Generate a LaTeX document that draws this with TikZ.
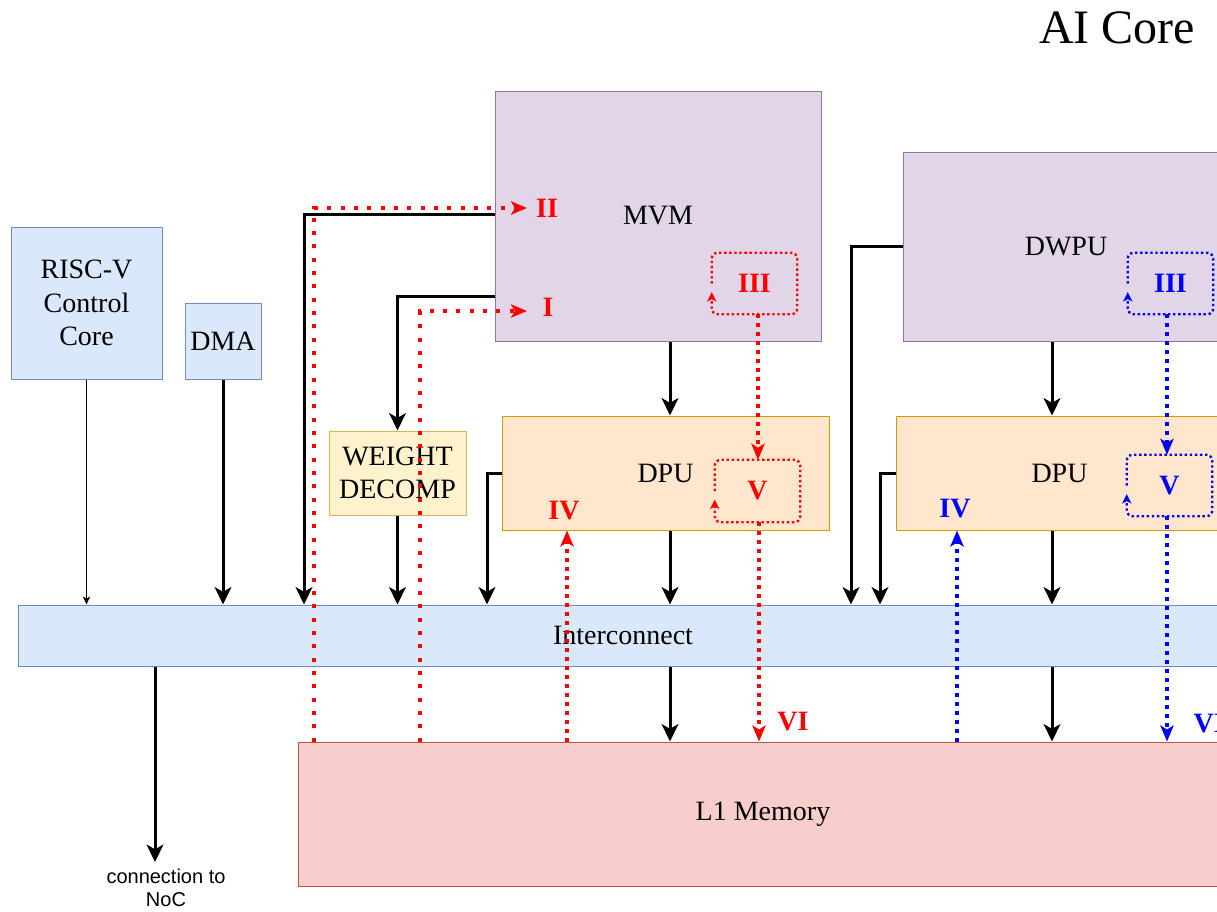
\documentclass[tikz,border=0pt]{standalone}
\usepackage{fontspec}
\setmainfont{Liberation Serif}
\newfontfamily\sansf{Liberation Sans}
\usetikzlibrary{arrows.meta}
\newlength{\px}\setlength{\px}{0.75pt}
\definecolor{bluef}{HTML}{DAE8FC}\definecolor{blued}{HTML}{6C8EBF}
\definecolor{purf}{HTML}{E1D5E7}\definecolor{purd}{HTML}{9673A6}
\definecolor{orf}{HTML}{FFE6CC}\definecolor{ord}{HTML}{D79B00}
\definecolor{yelf}{HTML}{FFF2CC}\definecolor{yeld}{HTML}{D6B656}
\definecolor{redf}{HTML}{F8CECC}\definecolor{redd}{HTML}{B85450}
\begin{document}
\begin{tikzpicture}[x=0.75pt,y=-0.75pt,
  box/.style={draw, line width=0.75pt, inner sep=0pt, align=center, font=\fontsize{21}{25}\selectfont},
  sz/.style 2 args={minimum width=#1\px, minimum height=#2\px},
  conn/.style={line width=2.25pt, -{Stealth[length=13pt,width=12.5pt,inset=3.5pt]}},
  thinconn/.style={line width=0.75pt, -{Stealth[length=6pt,width=5.5pt,inset=1.5pt]}},
  sparse/.style={line width=3pt, dash pattern=on 3pt off 7pt, -{Stealth[length=12pt,width=10pt,inset=3pt]}},
  dense/.style={line width=3pt, dash pattern=on 3pt off 3.75pt, -{Stealth[length=12pt,width=10pt,inset=3pt]}},
  loopline/.style={line width=1.8pt, dash pattern=on 1.8pt off 2pt, rounded corners=4.5pt, -{Stealth[length=7pt,width=7pt,inset=1.8pt]}},
  loopbox/.style={inner sep=0pt, minimum width=85\px, minimum height=61\px, font=\bfseries\fontsize{21}{25}\selectfont},
  lab/.style={font=\bfseries\fontsize{21}{25}\selectfont},
]
\useasboundingbox (0,0) rectangle (1217,911);
\clip (0,0) rectangle (1217,911);

% title
\node[font=\fontsize{36}{40}\selectfont] (title) at (1117,28) {AI Core};

% boxes
\node[box,fill=bluef,draw=blued,sz={151}{152}] (risc) at (86.5,303) {RISC-V\\Control\\Core};
\node[box,fill=bluef,draw=blued,sz={76}{76}] (dma) at (223,341) {DMA};
\node[box,fill=yelf,draw=yeld,sz={137}{84}] (wd) at (397.5,473) {WEIGHT\\DECOMP};
\node[box,fill=purf,draw=purd,sz={326}{250}] (mvm) at (658,216) {MVM};
\node[box,fill=purf,draw=purd,sz={326}{189}] (dwpu) at (1066,246.5) {DWPU};
\node[box,fill=orf,draw=ord,sz={327}{114}] (dpu1) at (665.5,473) {DPU};
\node[box,fill=orf,draw=ord,sz={327}{114}] (dpu2) at (1059.5,473) {DPU};
\node[box,fill=bluef,draw=blued,sz={1210}{61}] (ic) at (623,635.5) {Interconnect};
\node[box,fill=redf,draw=redd,sz={930}{144}] (l1) at (763,814) {L1 Memory};
\node[font=\sansf\fontsize{15}{17.25}\selectfont, align=center] (noc) at (166,888) {connection to\\NoC};
\coordinate (nocin) at (155,862);

% black connectors
\draw[thinconn] (risc.south) -- (risc.south |- ic.north);
\draw[conn] (dma.south) -- (dma.south |- ic.north);
\draw[conn] (mvm.west |- 0,214) -| (304,0 |- ic.north);
\draw[conn] (mvm.west |- 0,296) -| (wd.north);
\draw[conn] (wd.south) -- (wd.south |- ic.north);
\draw[conn] (dpu1.west) -| (487,0 |- ic.north);
\draw[conn] (670,0 |- mvm.south) -- (670,0 |- dpu1.north);
\draw[conn] (670,0 |- dpu1.south) -- (670,0 |- ic.north);
\draw[conn] (670,0 |- ic.south) -- (670,0 |- l1.north);
\draw[conn] (dwpu.west |- 0,246) -| (851,0 |- ic.north);
\draw[conn] (dpu2.west) -| (880,0 |- ic.north);
\draw[conn] (1052,0 |- dwpu.south) -- (1052,0 |- dpu2.north);
\draw[conn] (1052,0 |- dpu2.south) -- (1052,0 |- ic.north);
\draw[conn] (1052,0 |- ic.south) -- (1052,0 |- l1.north);
\draw[conn] (nocin |- ic.south) -- (nocin);

% red flow
\coordinate (ii) at (527,208);
\coordinate (i) at (527,311);
\draw[sparse,red] (314,0 |- l1.north) |- (ii);
\draw[sparse,red] (420,0 |- l1.north) |- (i);
\node[lab,text=red] (lii) at (547,208) {II};
\node[lab,text=red] (li) at (548,307) {I};

\node[loopbox,text=red] (r3) at (754.5,283.5) {III};
\draw[loopline,red] (r3.west) -- (r3.north west) -- (r3.north east) -- (r3.south east) -- (r3.south west) -- ([yshift=-6.5pt]r3.west);
\node[loopbox,text=red,minimum height=62\px] (r5) at (757.5,491) {V};
\draw[loopline,red] (r5.west) -- (r5.north west) -- (r5.north east) -- (r5.south east) -- (r5.south west) -- ([yshift=-6.5pt]r5.west);
\draw[dense,red] (758,0 |- r3.south) -- (758,0 |- r5.north);
\draw[dense,red] (759,0 |- r5.south) -- (759,0 |- l1.north);
\draw[dense,red] (567,0 |- l1.north) -- (567,0 |- dpu1.south);
\node[lab,text=red] (liv) at (564,511) {IV};
\node[lab,text=red] (lvi) at (793,722) {VI};

% blue flow
\node[loopbox,text=blue] (b3) at (1170.5,283.5) {III};
\draw[loopline,blue] (b3.west) -- (b3.north west) -- (b3.north east) -- (b3.south east) -- (b3.south west) -- ([yshift=-6.5pt]b3.west);
\node[loopbox,text=blue] (b5) at (1169.5,485.5) {V};
\draw[loopline,blue] (b5.west) -- (b5.north west) -- (b5.north east) -- (b5.south east) -- (b5.south west) -- ([yshift=-6.5pt]b5.west);
\draw[dense,blue] (1167,0 |- b3.south) -- (1167,0 |- b5.north);
\draw[dense,blue] (1167,0 |- b5.south) -- (1167,0 |- l1.north);
\draw[dense,blue] (957,0 |- l1.north) -- (957,0 |- dpu2.south);
\node[lab,text=blue] (biv) at (955,509) {IV};
\node[lab,text=blue,anchor=west] (bvi) at (1189,724) {VI};
\end{tikzpicture}
\end{document}
